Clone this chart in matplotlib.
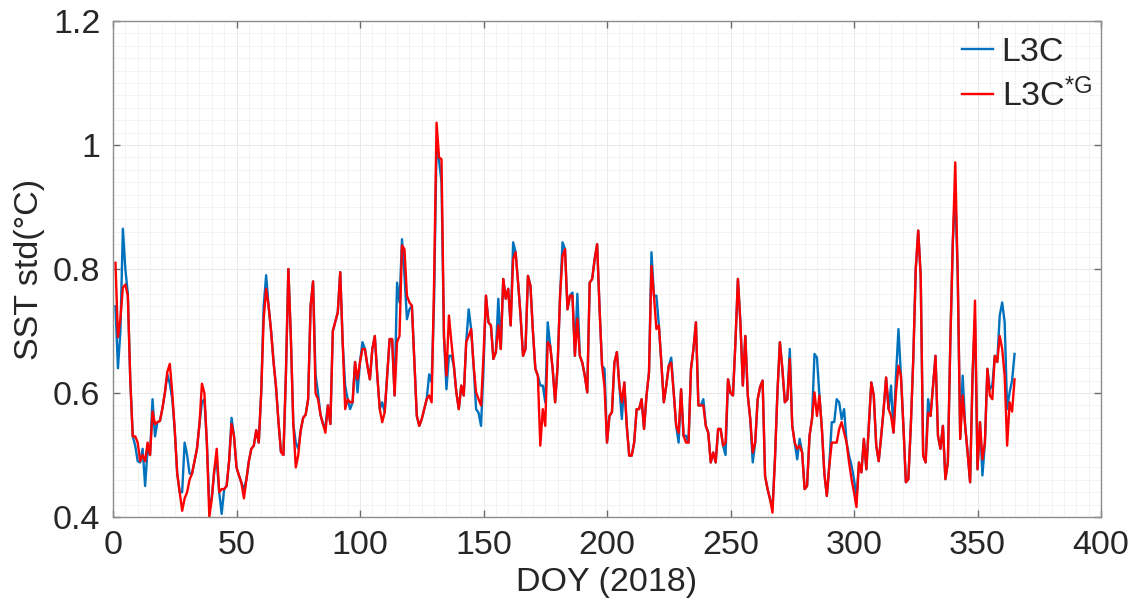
import matplotlib
matplotlib.use("Agg")
import matplotlib.pyplot as plt
from matplotlib.ticker import MultipleLocator
import numpy as np

plt.rcParams['font.family'] = ['Liberation Sans', 'DejaVu Sans']
plt.rcParams['mathtext.fontset'] = 'custom'
plt.rcParams['mathtext.rm'] = 'Liberation Sans'
plt.rcParams['mathtext.it'] = 'Liberation Sans'

doy = list(range(1, 366))

l3c = [
    .74, .64, .70, .865, .80, .76, .62, .53, .515, .49,
    .488, .51, .45, .51, .50, .59, .53, .553, .555, .575,
    .60, .63, .615, .59, .54, .47, .44, .44, .52, .50,
    .47, .47, .49, .51, .55, .585, .59, .52, .42, .43,
    .475, .49, .44, .405, .445, .45, .49, .56, .53, .48,
    .467, .455, .445, .46, .49, .51, .515, .54, .52, .60,
    .74, .79, .74, .70, .65, .61, .553, .505, .50, .63,
    .80, .69, .55, .52, .51, .54, .56, .565, .59, .74,
    .78, .63, .60, .565, .55, .547, .58, .55, .70, .715,
    .73, .795, .68, .612, .59, .574, .585, .65, .601, .65,
    .682, .671, .644, .622, .671, .692, .628, .574, .585, .569,
    .628, .687, .687, .596, .778, .746, .848, .79, .719, .735,
    .741, .65, .563, .547, .558, .574, .59, .63, .617, .75,
    1.004, .975, .94, .69, .606, .66, .66, .644, .601, .574,
    .612, .596, .682, .735, .703, .644, .574, .568, .547, .64,
    .757, .714, .709, .655, .666, .752, .671, .784, .752, .768,
    .709, .843, .827, .778, .725, .66, .671, .789, .773, .70,
    .639, .628, .612, .612, .585, .714, .676, .639, .585, .644,
    .757, .843, .832, .735, .757, .762, .66, .76, .66, .649,
    .628, .601, .778, .784, .816, .84, .735, .644, .639, .52,
    .563, .569, .649, .666, .612, .558, .617, .547, .499, .499,
    .52, .574, .574, .59, .542, .596, .633, .827, .757, .757,
    .709, .649, .585, .612, .644, .657, .601, .547, .52, .606,
    .531, .531, .52, .639, .671, .714, .58, .58, .59, .547,
    .536, .488, .504, .488, .542, .542, .515, .50, .622, .60,
    .596, .682, .784, .714, .612, .692, .596, .558, .488, .52,
    .59, .61, .62, .466, .445, .429, .415, .493, .601, .682,
    .639, .585, .59, .671, .547, .52, .493, .526, .504, .445,
    .45, .531, .558, .663, .657, .596, .542, .47, .434, .483,
    .553, .553, .59, .585, .558, .574, .52, .499, .483, .461,
    .43, .488, .472, .526, .477, .547, .617, .596, .515, .49,
    .53, .574, .625, .574, .612, .536, .628, .703, .628, .547,
    .456, .461, .547, .655, .80, .862, .789, .499, .488, .59,
    .563, .612, .66, .531, .51, .547, .461, .488, .682, .843,
    .924, .789, .526, .628, .547, .504, .456, .628, .72, .477,
    .553, .467, .52, .639, .606, .612, .66, .65, .725, .746,
    .714, .574, .601, .62, .663,
]

l3c_g = [
    .81, .69, .72, .77, .775, .757, .62, .53, .53, .52,
    .49, .50, .49, .52, .50, .57, .55, .553, .555, .575,
    .60, .634, .647, .60, .54, .47, .44, .41, .43, .44,
    .46, .47, .49, .51, .55, .615, .60, .52, .40, .43,
    .475, .51, .44, .445, .445, .45, .49, .55, .53, .48,
    .467, .455, .43, .46, .49, .51, .515, .54, .52, .60,
    .72, .768, .74, .70, .65, .61, .553, .505, .50, .63,
    .80, .69, .55, .48, .50, .54, .56, .565, .59, .74,
    .78, .60, .59, .565, .55, .536, .58, .55, .70, .715,
    .73, .795, .68, .574, .59, .585, .585, .65, .622, .65,
    .671, .671, .644, .622, .671, .692, .628, .574, .553, .569,
    .628, .687, .687, .596, .682, .692, .838, .832, .757, .746,
    .741, .65, .563, .547, .558, .574, .59, .596, .585, .78,
    1.036, .98, .977, .69, .628, .725, .682, .644, .601, .574,
    .612, .596, .682, .692, .703, .644, .601, .59, .58, .66,
    .757, .714, .709, .655, .666, .709, .671, .784, .752, .768,
    .709, .816, .827, .778, .725, .66, .671, .789, .773, .70,
    .639, .628, .515, .574, .547, .682, .676, .639, .585, .644,
    .757, .821, .832, .735, .757, .757, .66, .72, .66, .649,
    .628, .601, .778, .784, .816, .84, .735, .644, .61, .52,
    .563, .569, .649, .666, .612, .585, .617, .547, .499, .499,
    .52, .574, .574, .59, .542, .596, .633, .805, .757, .703,
    .709, .649, .585, .612, .644, .649, .601, .547, .536, .606,
    .531, .52, .52, .639, .671, .714, .58, .58, .58, .547,
    .536, .488, .504, .488, .542, .542, .515, .52, .622, .60,
    .596, .682, .784, .714, .612, .692, .596, .558, .504, .52,
    .59, .61, .62, .466, .445, .429, .407, .493, .601, .682,
    .639, .585, .59, .655, .547, .52, .51, .515, .504, .445,
    .45, .531, .558, .601, .563, .596, .542, .47, .434, .483,
    .52, .52, .52, .542, .553, .536, .52, .488, .461, .44,
    .416, .488, .472, .526, .477, .547, .617, .596, .515, .49,
    .53, .574, .625, .574, .563, .536, .601, .644, .628, .547,
    .456, .461, .547, .655, .80, .862, .789, .499, .488, .568,
    .563, .612, .66, .531, .51, .547, .461, .488, .682, .843,
    .972, .789, .526, .596, .547, .504, .456, .628, .749, .477,
    .553, .493, .52, .639, .596, .59, .66, .65, .692, .671,
    .628, .515, .585, .57, .622,
]

series_names = ['L3C', 'L3C$^{\\mathregular{*G}}$']
x_ticks = [0, 50, 100, 150, 200, 250, 300, 350, 400]
y_ticks = [0.4, 0.6, 0.8, 1.0, 1.2]
y_tick_labels = ['0.4', '0.6', '0.8', '1', '1.2']

fig = plt.figure(figsize=(11.34, 6.16), dpi=100)
ax = fig.add_axes([113/1134, 1 - 517/616, 988/1134, 496/616])

ax.plot(doy, l3c, color='#0072BD', lw=1.7, label=series_names[0])
ax.plot(doy, l3c_g, color='#FF0000', lw=1.7, label=series_names[1])

ax.set_xlim(0, 400)
ax.set_ylim(0.4, 1.2)
ax.set_xticks(x_ticks)
ax.set_yticks(y_ticks)
ax.set_yticklabels(y_tick_labels)
ax.xaxis.set_minor_locator(MultipleLocator(5))
ax.yaxis.set_minor_locator(MultipleLocator(0.02))
ax.grid(which='minor', color='#f1f1f1', lw=0.6)
ax.grid(which='major', color='#e9e9e9', lw=0.7)
ax.set_axisbelow(True)

for s in ax.spines.values():
    s.set_color('#8c8c8c')
    s.set_linewidth(1.0)
ax.tick_params(which='major', direction='in', length=5, width=1.0, color='#6a6a6a',
               top=True, right=True, labelsize=24.5, pad=9, labelcolor='#262626')
ax.tick_params(which='minor', length=0, top=True, right=True)

ax.set_xlabel('DOY (2018)', fontsize=24.5, color='#262626', labelpad=5)
ax.set_ylabel('SST std(\u00b0C)', fontsize=24.5, color='#262626', labelpad=6)

leg = ax.legend(loc='upper right', frameon=False, fontsize=24.5, handlelength=0.9,
                handletextpad=0.25, labelspacing=0.3, borderaxespad=0.0,
                bbox_to_anchor=(1.005, 0.995))
for t in leg.get_texts():
    t.set_color('#262626')

fig.savefig('out.png', dpi=100, facecolor='white')
